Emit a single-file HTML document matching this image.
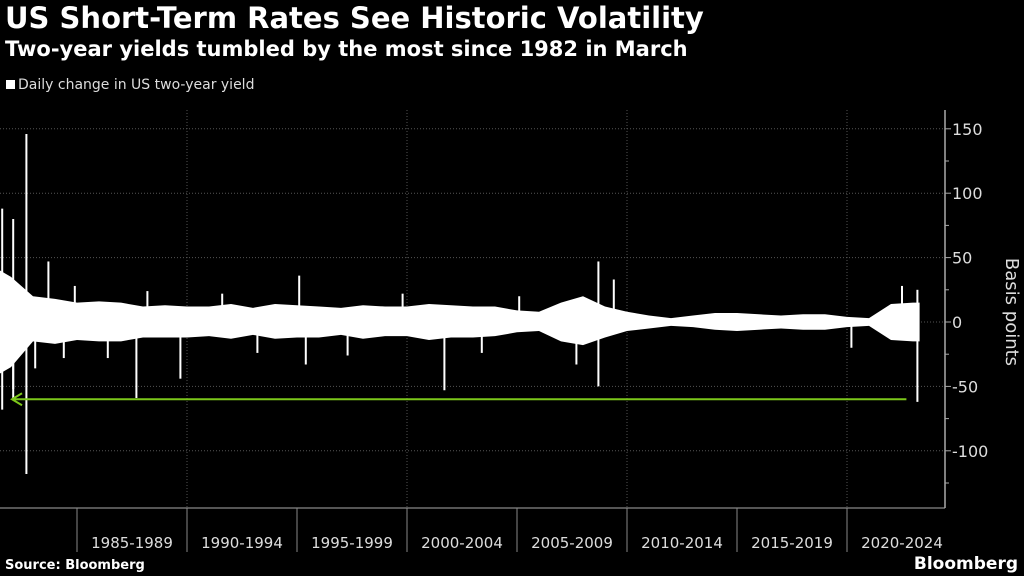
<!DOCTYPE html>
<html><head><meta charset="utf-8"><style>
body{margin:0;background:#000;width:1024px;height:576px;overflow:hidden;font-family:"DejaVu Sans","Liberation Sans",sans-serif;color:#fff}
.t{position:absolute;left:5px;top:1px;font-size:29px;font-weight:bold;white-space:nowrap}
.s{position:absolute;left:5px;top:37px;font-size:21px;font-weight:bold;white-space:nowrap}
.l{position:absolute;left:6px;top:77px;font-size:14px;color:#ddd;white-space:nowrap}
.l i{display:inline-block;width:9px;height:9px;background:#fff;margin-right:3px}
svg{position:absolute;left:0;top:0}
svg text{font-family:"DejaVu Sans","Liberation Sans",sans-serif}
</style></head><body>
<div class="t">US Short-Term Rates See Historic Volatility</div>
<div class="s">Two-year yields tumbled by the most since 1982 in March</div>
<div class="l"><i></i>Daily change in US two-year yield</div>
<svg id="c" width="1024" height="576"></svg>
<script>
const years=[1981.5,1982,1983,1984,1985,1986,1987,1988,1989,1990,1991,1992,1993,1994,1995,1996,1997,1998,1999,2000,2001,2002,2003,2004,2005,2006,2007,2008,2009,2010,2011,2012,2013,2014,2015,2016,2017,2018,2019,2020,2021,2022,2023,2023.3];
const bandHigh=[40,35,20,18,15,16,15,12,13,12,12,14,11,14,13,12,11,13,12,12,14,13,12,12,9,8,15,20,12,8,5,3,5,7,7,6,5,6,6,4,3,14,15,15];
const bandLow=[-40,-35,-15,-17,-14,-15,-15,-12,-12,-12,-11,-13,-10,-13,-12,-12,-10,-13,-11,-11,-14,-12,-12,-11,-8,-7,-15,-18,-12,-7,-5,-3,-4,-6,-7,-6,-5,-6,-6,-4,-3,-14,-15,-15];
const spikeDates=[1981.6,1981.6,1982.1,1982.1,1982.7,1982.7,1982.1,1983.1,1983.7,1984.4,1987.7,1989.7,1995.4,1995.1,2001.7,2007.7,2008.7,2008.7,2009.4,2020.2,2022.5,2023.2,2023.2,1984.9,1986.4,1988.2,1991.6,1993.2,1997.3,1999.8,2003.4,2005.1];
const spikeValues=[88,-68,80,-59,146,-118,-52,-36,47,-28,-59,-44,-33,36,-53,-33,47,-50,33,-20,28,-62,25,28,-28,24,22,-24,-26,22,-24,20];
const yTicks=[150,100,50,0,-50,-100];
const periods=["1985-1989","1990-1994","1995-1999","2000-2004","2005-2009","2010-2014","2015-2019","2020-2024"];
const NS="http://www.w3.org/2000/svg",svg=document.getElementById('c');
const X=y=>(y-1981.5)*22, Y=v=>322-v*1.288;
function mk(t,a){const e=document.createElementNS(NS,t);for(const k in a)e.setAttribute(k,a[k]);svg.appendChild(e);return e;}
yTicks.forEach(v=>{const g=mk('line',{x1:0,x2:945,y1:Y(v),y2:Y(v),stroke:'#555','stroke-dasharray':'1 2'});
});
[1990,2000,2010,2020].forEach(y=>{const g=mk('line',{x1:X(y),x2:X(y),y1:110,y2:508,stroke:'#555','stroke-dasharray':'1 2'});
});
let up=[],dn=[];
years.forEach((y,i)=>{up.push(X(y)+','+Y(bandHigh[i]));dn.unshift(X(y)+','+Y(bandLow[i]));});
const band=mk('polygon',{points:up.concat(dn).join(' '),fill:'#fff'});

spikeDates.forEach((d,i)=>{const s=mk('line',{x1:X(d),x2:X(d),y1:Y(0),y2:Y(spikeValues[i]),stroke:'#fff','stroke-width':2});
});
const ar=mk('path',{d:`M${X(2022.7)},${Y(-60)}H${X(1981.5)+12}M${X(1981.5)+22},${Y(-60)-6}L${X(1981.5)+12},${Y(-60)}L${X(1981.5)+22},${Y(-60)+6}`,stroke:'#7cc71a','stroke-width':2,fill:'none'});

const ax=mk('line',{x1:945,x2:945,y1:110,y2:508,stroke:'#aaa','stroke-width':1.5});

for(let v=-125;v<=150;v+=25){const t=mk('line',{x1:945,x2:v%50===0?951:949,y1:Y(v),y2:Y(v),stroke:'#aaa'});
}
yTicks.forEach(v=>{const t=mk('text',{x:952,y:Y(v)+6,fill:'#ddd','font-size':16});t.textContent=v<0?'-'+(-v):v;
});
const yt=mk('text',{x:1006,y:312,fill:'#ddd','font-size':18,'text-anchor':'middle',transform:'rotate(90 1006 312)'});yt.textContent='Basis points';

const xa=mk('line',{x1:0,x2:945,y1:508,y2:508,stroke:'#aaa'});

periods.forEach((p,i)=>{const x0=X(1985+5*i);
const s=mk('line',{x1:x0,x2:x0,y1:508,y2:552,stroke:'#888'});
const t=mk('text',{x:x0+55,y:548,fill:'#ddd','font-size':15,'text-anchor':'middle'});t.textContent=p;
});
const src=mk('text',{x:5,y:569,fill:'#fff','font-size':13,'font-weight':'bold'});src.textContent='Source: Bloomberg';

const bb=mk('text',{x:1018,y:569,fill:'#fff','font-size':17,'font-weight':'bold','text-anchor':'end'});bb.textContent='Bloomberg';

</script>
</body></html>
